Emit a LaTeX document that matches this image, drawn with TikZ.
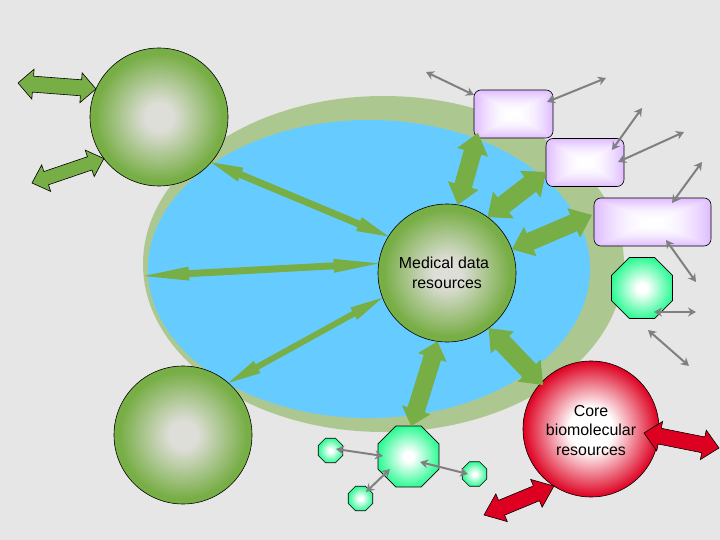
\documentclass[tikz,border=0pt]{standalone}
\usepackage{fontspec}
\setmainfont{Liberation Sans}
\usetikzlibrary{shapes.geometric, arrows.meta, calc}
\definecolor{paper}{RGB}{230,230,230}
\definecolor{poolrim}{RGB}{172,200,144}
\definecolor{poolblue}{RGB}{102,204,255}
\definecolor{leaf}{RGB}{120,174,70}
\definecolor{ballcore}{RGB}{222,222,216}
\definecolor{octedge}{RGB}{40,250,145}
\definecolor{rededge}{RGB}{222,0,32}
\pgfdeclareradialshading{ballgreen}{\pgfpointorigin}{color(0bp)=(ballcore); color(5bp)=(ballcore); color(23bp)=(leaf); color(50bp)=(leaf)}
\pgfdeclareradialshading{ballred}{\pgfpointorigin}{color(0bp)=(white); color(8bp)=(white); color(25bp)=(rededge); color(50bp)=(rededge)}
\pgfdeclareradialshading{octglow}{\pgfpointorigin}{color(0bp)=(white); color(4bp)=(white); color(26bp)=(octedge); color(50bp)=(octedge)}
\pgfdeclarefunctionalshading{boxglow}{\pgfpointorigin}{\pgfpoint{100bp}{100bp}}{}{
  50 sub abs exch 50 sub abs 2 copy lt {exch} if pop 25 div dup mul
  dup 0.13 mul 1 exch sub exch 0.27 mul 1 exch sub 1
}
\tikzset{fat/.style n args={3}{to path={
  -- ($($(\tikztostart)!#2!(\tikztotarget)$)!#3!90:(\tikztotarget)$)
  -- ($($(\tikztostart)!#2!(\tikztotarget)$)!#1!90:(\tikztotarget)$)
  -- ($($(\tikztotarget)!#2!(\tikztostart)$)!#1!-90:(\tikztostart)$)
  -- ($($(\tikztotarget)!#2!(\tikztostart)$)!#3!-90:(\tikztostart)$)
  -- (\tikztotarget)
  -- ($($(\tikztotarget)!#2!(\tikztostart)$)!#3!90:(\tikztostart)$)
  -- ($($(\tikztotarget)!#2!(\tikztostart)$)!#1!90:(\tikztostart)$)
  -- ($($(\tikztostart)!#2!(\tikztotarget)$)!#1!-90:(\tikztotarget)$)
  -- ($($(\tikztostart)!#2!(\tikztotarget)$)!#3!-90:(\tikztotarget)$)
  -- cycle}}}
\begin{document}
\begin{tikzpicture}[x=1pt,y=-1pt]
    \tikzstyle{pool} = [ellipse, inner sep=0pt, outer sep=0pt]
    \tikzstyle{ball} = [circle, draw=black, line width=0.6pt, inner sep=0pt, outer sep=0pt, minimum size=138pt, shading=ballgreen, align=center, font=\fontsize{15.9}{19.5}\selectfont]
    \tikzstyle{store} = [rectangle, rounded corners=7pt, draw=black, line width=0.6pt, inner sep=0pt, outer sep=0pt, minimum height=48pt, shading=boxglow]
    \tikzstyle{octbig} = [regular polygon, regular polygon sides=8, draw=black, line width=0.6pt, inner sep=0pt, outer sep=0pt, minimum size=66pt, shading=octglow]
    \tikzstyle{octsmall} = [octbig, minimum size=26.5pt]
    \tikzstyle{greenarrow} = [fill=leaf, draw=none]
    \tikzstyle{outlined} = [fill=leaf, draw=black, line width=0.6pt]
    \tikzstyle{redarrow} = [fill=rededge, draw=black, line width=0.6pt]
    \tikzstyle{wire} = [draw=gray, line width=2pt, {Stealth[length=8pt,width=9pt]}-{Stealth[length=8pt,width=9pt]}]
    % Background
    \fill [paper] (0,0) rectangle (720,540);
    \useasboundingbox (0,0) rectangle (720,540);
    % Nodes
    \node (rim) [pool, fill=poolrim, minimum width=481pt, minimum height=336pt] at (383.5,264) {};
    \node (pool) [pool, fill=poolblue, minimum width=442pt, minimum height=298pt] at (369,269) {};
    \node (upperball) [ball] at (159,117) {};
    \node (lowerball) [ball] at (183,435) {};
    \node (medical) [ball] at (447,273) {Medical data\hspace*{6pt}\\ resources};
    \node (core) [ball, minimum size=136pt, shading=ballred] at (591,429) {\rule{0pt}{13.5pt}Core\\ biomolecular\hspace*{6pt}\\ resources};
    \node (storea) [store, minimum width=79pt] at (513.5,114) {};
    \node (storeb) [store, minimum width=78pt] at (585,162.5) {};
    \node (storec) [store, minimum width=117pt] at (652.5,222) {};
    \node (octright) [octbig] at (642,288) {};
    \node (octlow) [octbig] at (408.5,456.5) {};
    \node (octa) [octsmall] at (330.5,450.5) {};
    \node (octb) [octsmall] at (360.5,498.5) {};
    \node (octc) [octsmall] at (474.5,474) {};
    % Free ends and ends inside nodes
    \coordinate (outa) at (18,83);
    \coordinate (outb) at (32,183);
    \coordinate (poolleft) at (144,276);
    \coordinate (outc) at (484,515);
    \coordinate (outd) at (719,448);
    \coordinate (intoa) at (478,133);
    \coordinate (intob) at (546,172);
    \coordinate (intoc) at (592,215);
    \coordinate (intocore) at (543,385);
    \coordinate (intoredr) at (644,433);
    % Thick arrows
    \draw [outlined] (outa) to [fat={8pt}{15pt}{15pt}] (upperball.156);
    \draw [outlined] (outb) to [fat={7pt}{15pt}{14pt}] (upperball.217);
    \draw [greenarrow] (upperball.-41) to [fat={3.5pt}{32pt}{7.5pt}] (medical.148.6);
    \draw [greenarrow] (poolleft) to [fat={3.5pt}{45pt}{7pt}] (medical.172);
    \draw [greenarrow] (lowerball.49) to [fat={3pt}{33pt}{7pt}] (medical.201);
    \draw [greenarrow] (medical.81) to [fat={9pt}{20pt}{16pt}] (intoa);
    \draw [greenarrow] (medical.54.7) to [fat={9.5pt}{20pt}{17pt}] (intob);
    \draw [greenarrow] (medical.20.7) to [fat={9pt}{20pt}{16pt}] (intoc);
    \draw [greenarrow] (medical.-53.8) to [fat={9.5pt}{20pt}{16pt}] (intocore);
    \draw [greenarrow] (medical.-98) to [fat={9pt}{17pt}{15pt}] (octlow.85);
    \draw [redarrow] (outc) to [fat={8pt}{19pt}{15pt}] (core.237);
    \draw [redarrow] (outd) to [fat={8pt}{16pt}{15pt}] (intoredr);
    % Thin arrows
    \draw [wire] (426,72) -- ([shift={(-39.5,-19)}]storea.center);
    \draw [wire] (606,78) -- ([shift={(33.5,-12)}]storea.center);
    \draw [wire] (642,108) -- ([shift={(27,-12.5)}]storeb.center);
    \draw [wire] (684,132) -- ([shift={(33,-0.5)}]storeb.center);
    \draw [wire] (702,162) -- ([shift={(19.5,-19)}]storec.center);
    \draw [wire] (696,282) -- ([shift={(13.5,18)}]storec.center);
    \draw [wire] (696,312) -- ([shift={(12,24)}]octright.center);
    \draw [wire] (648,330) -- (689,366);
    \draw [wire] (octa.center) ++(5.5,-1.5) -- ([shift={(-25.5,-0.5)}]octlow.center);
    \draw [wire] (octb.center) ++(5.5,-6.5) -- ([shift={(-18.5,12.5)}]octlow.center);
    \draw [wire] (octc.center) ++(-6.5,0) -- ([shift={(11.5,5.5)}]octlow.center);
\end{tikzpicture}
\end{document}
